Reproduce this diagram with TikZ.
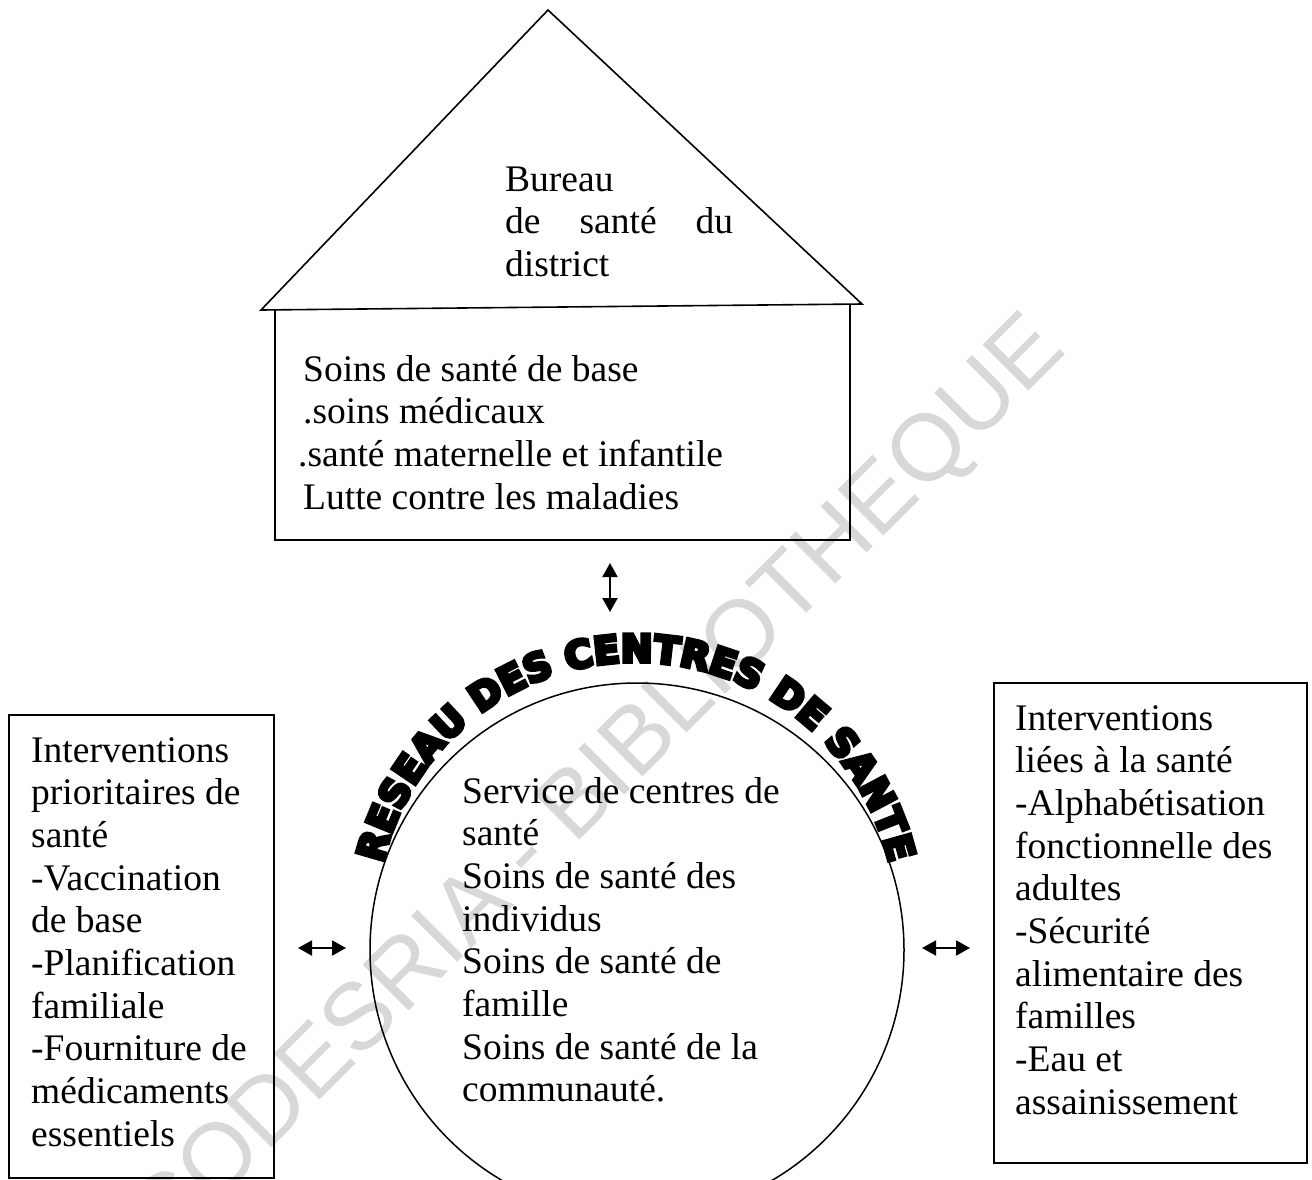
\documentclass[tikz,border=0pt]{standalone}
\usepackage{fontspec}
\setmainfont{Liberation Serif}
\newfontfamily\wmfont{Liberation Sans}
\newfontfamily\arcfont{DejaVu Sans}[FakeBold=10]
\usetikzlibrary{arrows.meta,decorations.text}
\definecolor{wmgray}{RGB}{216,216,216}
\newcommand\mylines[1]{\begin{tabular}[t]{@{}l@{}}#1\end{tabular}}
\tikzset{
  body/.style={anchor=base west, inner sep=0pt, font=\fontsize{37.5}{42.7}\selectfont},
  outline/.style={draw=black, line width=1.6pt},
  dbl/.style={{Triangle[length=14pt,width=15pt]}-{Triangle[length=14pt,width=15pt]}, line width=2pt},
}
\begin{document}
\begin{tikzpicture}[x=1pt,y=1pt]
\useasboundingbox (0,0) rectangle (1312,-1179);
% watermark
\node[rotate=45, text=wmgray, inner sep=0pt, font=\wmfont\fontsize{94.5}{94.5}\selectfont] (wm) at (600,-786) {CODESRIA - BIBLIOTHEQUE};
% house
\draw[outline, line join=miter] (261,-310) -- (548,-10) -- (862,-304) -- cycle;
\draw[outline] (275,-309) -- (275,-540) -- (850,-540) -- (850,-305);
\node[body] (bureau) at (505,-191) {\mylines{Bureau\\ \makebox[228pt][s]{de\hfill santé\hfill du}\\ district}};
\node[body] (soins) at (303,-381) {\mylines{Soins de santé de base\\ .soins médicaux\\ \hspace*{-5pt}.santé maternelle et infantile\\ Lutte contre les maladies}};
% circle
\node[circle, draw, line width=1.5pt, minimum size=534pt, inner sep=0pt] (hub) at (637,-950) {};
\path[decorate, decoration={text along path, text align={fit to path},
  text={|\arcfont\bfseries\fontsize{38}{38}\selectfont|RESEAU DES CENTRES DE SANTE}}]
  (636,-922) ++(167:260) arc[start angle=167, end angle=13, radius=260];
\node[body] (service) at (462,-803) {\mylines{Service de centres de\\ santé\\ Soins de santé des\\ individus\\ Soins de santé de\\ famille\\ Soins de santé de la\\ communauté.}};
% side boxes
\node[outline, minimum width=265pt, minimum height=463pt, inner sep=0pt] (leftbox) at (141.5,-946.5) {};
\node[body] (lefttext) at (31,-762) {\mylines{Interventions\\ prioritaires de\\ santé\\ -Vaccination\\ de base\\ -Planification\\ familiale\\ -Fourniture de\\ médicaments\\ essentiels}};
\node[outline, minimum width=313pt, minimum height=480pt, inner sep=0pt] (rightbox) at (1150.5,-923) {};
\node[body] (righttext) at (1015,-730) {\mylines{Interventions\\ liées à la santé\\ -Alphabétisation\\ fonctionnelle des\\ adultes\\ -Sécurité\\ alimentaire des\\ familles\\ -Eau et\\ assainissement}};
% arrows
\coordinate (va1) at (610,-563);
\coordinate (va2) at (610,-612);
\coordinate (la1) at (298,-948);
\coordinate (la2) at (346,-948);
\coordinate (ra1) at (922,-948);
\coordinate (ra2) at (970,-948);
\draw[dbl] (va1) -- (va2);
\draw[dbl] (la1) -- (la2);
\draw[dbl] (ra1) -- (ra2);
\end{tikzpicture}
\end{document}
